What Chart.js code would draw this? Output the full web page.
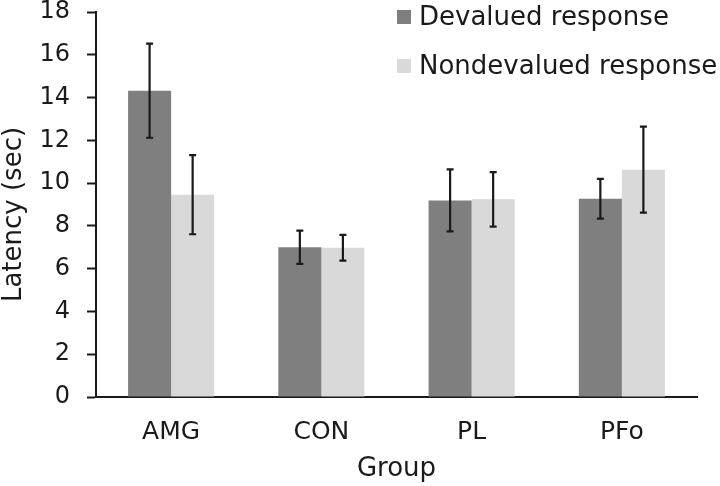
<!DOCTYPE html>
<html>
<head>
<meta charset="utf-8">
<script src="https://cdn.jsdelivr.net/npm/chart.js@4/dist/chart.umd.min.js"></script>
<style>
  html, body { margin: 0; padding: 0; background: #ffffff; }
  #wrap { width: 720px; height: 486px; }
</style>
</head>
<body>
<div id="wrap"><canvas id="c" width="720" height="486"></canvas></div>
<script>
const categories = ['AMG', 'CON', 'PL', 'PFo'];
const seriesNames = ['Devalued response', 'Nondevalued response'];
const devalued = [14.32, 7.0, 9.19, 9.27];
const devaluedErr = [2.2, 0.78, 1.45, 0.93];
const nondevalued = [9.46, 6.98, 9.24, 10.63];
const nondevaluedErr = [1.85, 0.6, 1.27, 2.01];
const yTicks = [0, 2, 4, 6, 8, 10, 12, 14, 16, 18];
const yTitle = 'Latency (sec)';
const xTitle = 'Group';

const FONT = "'DejaVu Sans', Verdana, sans-serif";
const INK = '#1a1a1a';

const errorBarPlugin = {
  id: 'errorBars',
  afterDatasetsDraw(chart) {
    const ctx = chart.ctx;
    const y = chart.scales.y;
    ctx.save();
    ctx.strokeStyle = INK;
    ctx.lineWidth = 2.2;
    chart.data.datasets.forEach((ds, di) => {
      const meta = chart.getDatasetMeta(di);
      meta.data.forEach((bar, i) => {
        const v = ds.data[i], e = ds.errors[i];
        const x = bar.x;
        const yTop = y.getPixelForValue(v + e);
        const yBot = y.getPixelForValue(v - e);
        const cap = 3.5;
        ctx.beginPath();
        ctx.moveTo(x, yTop); ctx.lineTo(x, yBot);
        ctx.moveTo(x - cap, yTop); ctx.lineTo(x + cap, yTop);
        ctx.moveTo(x - cap, yBot); ctx.lineTo(x + cap, yBot);
        ctx.stroke();
      });
    });
    ctx.restore();
  }
};

const legendPlugin = {
  id: 'customLegend',
  afterDraw(chart) {
    const ctx = chart.ctx;
    ctx.save();
    ctx.font = '26px ' + FONT;
    ctx.textBaseline = 'middle';
    ctx.textAlign = 'left';
    const x0 = 397, y0 = 17, step = 49, sq = 14;
    chart.data.datasets.forEach((ds, i) => {
      const cy = y0 + i * step;
      ctx.fillStyle = ds.backgroundColor;
      ctx.fillRect(x0, cy - sq / 2, sq, sq);
      ctx.fillStyle = INK;
      ctx.fillText(ds.label, x0 + 22, cy + 1);
    });
    // y-axis title (rotated), placed slightly below the axis centre as in the reference
    ctx.translate(14, (chart.chartArea.top + chart.chartArea.bottom) / 2 + 10);
    ctx.rotate(-Math.PI / 2);
    ctx.textAlign = 'center';
    ctx.fillText(yTitle, 0, 0);
    ctx.restore();
  }
};

new Chart(document.getElementById('c'), {
  type: 'bar',
  data: {
    labels: categories,
    datasets: [
      { label: seriesNames[0], data: devalued, errors: devaluedErr,
        backgroundColor: '#7f7f7f', borderWidth: 0,
        categoryPercentage: 0.573, barPercentage: 1.0 },
      { label: seriesNames[1], data: nondevalued, errors: nondevaluedErr,
        backgroundColor: '#d9d9d9', borderWidth: 0,
        categoryPercentage: 0.573, barPercentage: 1.0 }
    ]
  },
  options: {
    responsive: false,
    animation: false,
    devicePixelRatio: 1,
    layout: { padding: { top: 12, right: 23, left: 0, bottom: 0 } },
    plugins: { legend: { display: false }, tooltip: { enabled: false } },
    scales: {
      x: {
        grid: { display: false, drawTicks: false },
        border: { display: true, color: INK, width: 2 },
        ticks: { color: INK, font: { family: FONT, size: 25 }, padding: 20 },
        title: { display: true, text: xTitle, color: INK,
                 font: { family: FONT, size: 26, lineHeight: 1 }, padding: { top: 0, bottom: 4 } },
        afterFit(scale) { scale.height = 89; scale.paddingLeft = 0; scale.paddingRight = 0; }
      },
      y: {
        min: 0, max: 18,
        afterBuildTicks(scale) { scale.ticks = yTicks.map(v => ({ value: v })); },
        grid: { drawOnChartArea: false, drawTicks: true, tickLength: 9, color: INK, tickWidth: 2 },
        border: { display: true, color: INK, width: 2 },
        ticks: { color: INK, font: { family: FONT, size: 24 }, padding: 17 },
        title: { display: false },
        afterFit(scale) { scale.width = 96; scale.paddingTop = 0; scale.paddingBottom = 0; }
      }
    }
  },
  plugins: [errorBarPlugin, legendPlugin]
});
</script>
</body>
</html>
